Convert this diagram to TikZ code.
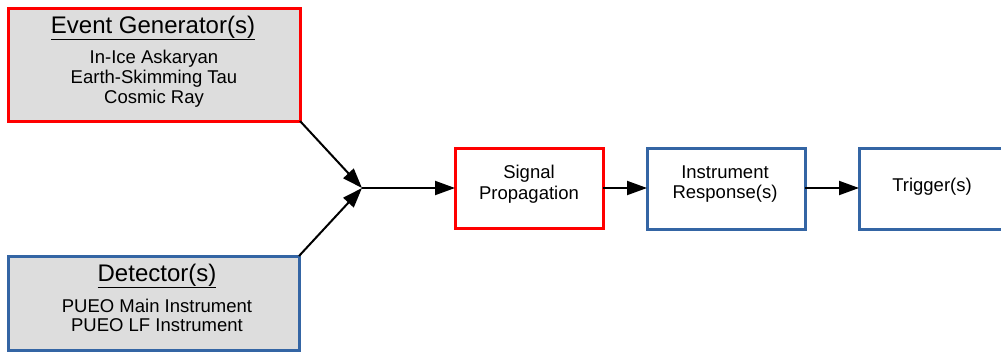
\documentclass[tikz,border=0pt]{standalone}
\usepackage{fontspec}
\setmainfont{Liberation Sans}
\usetikzlibrary{arrows.meta}
\definecolor{boxred}{HTML}{FF0000}
\definecolor{boxblue}{HTML}{3465A4}
\definecolor{boxgray}{HTML}{DDDDDD}
\tikzset{
  box/.style={draw, line width=3pt, inner sep=0pt, outer sep=0pt, line join=miter},
  redbox/.style={box, draw=boxred},
  bluebox/.style={box, draw=boxblue},
  shaded/.style={fill=boxgray},
  title/.style={anchor=base, inner sep=0pt, font=\fontsize{24}{28}\selectfont},
  body/.style={anchor=base, inner sep=0pt, font=\fontsize{18.5}{21}\selectfont},
  flow/.style={line width=2pt, -{Triangle[length=20pt,width=14pt]}},
}
\begin{document}
\begin{tikzpicture}[x=1pt, y=-1pt]
  \useasboundingbox (0,0) rectangle (1001,354);
  \clip (0,0) rectangle (1001,354);
  \fill[white] (0,0) rectangle (1001,354);

  % source boxes
  \node[redbox, shaded, minimum width=292pt, minimum height=113pt] (gen) at (154,64.5) {};
  \node[bluebox, shaded, minimum width=291pt, minimum height=94pt] (det) at (153.5,303) {};

  % processing chain
  \node[redbox, minimum width=148pt, minimum height=80pt] (sig) at (529,188) {};
  \node[bluebox, minimum width=158pt, minimum height=81pt] (ins) at (726,188.5) {};
  \node[bluebox, minimum width=149pt, minimum height=81pt] (trg) at (933.5,188.5) {};

  % labels
  \node[title] (genT) at (153,33) {\underline{Event Generator(s)}};
  \node[body] (genA) at (154,63) {In-Ice Askaryan};
  \node[body] (genB) at (154,83) {Earth-Skimming Tau};
  \node[body] (genC) at (154,103) {Cosmic Ray};

  \node[title] (detT) at (157,281) {\underline{Detector(s)}};
  \node[body] (detA) at (157,312) {PUEO Main Instrument};
  \node[body] (detB) at (157,331) {PUEO LF Instrument};

  \node[body] (sigA) at (529,178) {Signal};
  \node[body] (sigB) at (529,199) {Propagation};

  \node[body] (insA) at (725,178) {Instrument};
  \node[body] (insB) at (725,198) {Response(s)};

  \node[body] (trgA) at (932,191) {Trigger(s)};

  % connectors
  \coordinate (J) at (362,188);
  \draw[flow] (gen.south east) -- (J);
  \draw[flow] (det.north east) -- (J);
  \draw[flow] (J) -- (sig.west);
  \draw[flow] (sig.east) -- (ins.west |- sig.east);
  \draw[flow] (ins.east |- sig.east) -- (trg.west |- sig.east);
\end{tikzpicture}
\end{document}
